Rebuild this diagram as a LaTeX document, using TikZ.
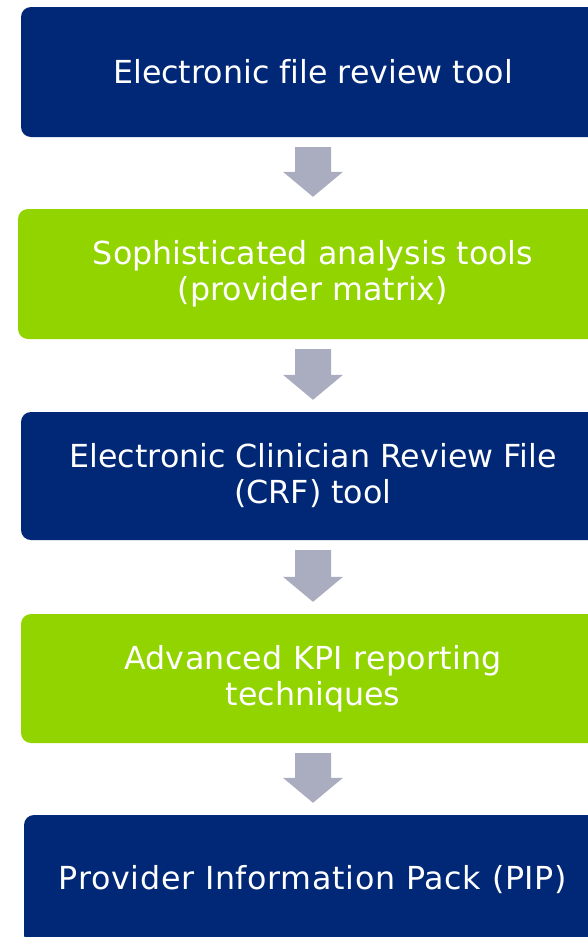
\documentclass[tikz,border=0pt]{standalone}
\usepackage{fontspec}
\setmainfont[Ligatures=CommonOff]{DejaVu Sans}
\usepackage{tikz}
\usetikzlibrary{calc}

\definecolor{pipblue}{RGB}{0,40,118}
\definecolor{pipgreen}{RGB}{146,212,0}
\definecolor{pipgrey}{RGB}{170,172,191}

\begin{document}
\begin{tikzpicture}[x=1pt,y=1pt]
	\tikzstyle{every node}=[font=\fontsize{31.7}{36}\selectfont, text=white, align=center]
	\tikzstyle{stage}=[rectangle, rounded corners=10pt, inner sep=0pt, minimum height=130pt]
	\tikzstyle{bluestage}=[stage, fill=pipblue]
	\tikzstyle{greenstage}=[stage, fill=pipgreen]
	
	\useasboundingbox (0,0) rectangle (588,-937);
	\clip (0,0) rectangle (588,-937);
	
	\node[bluestage, minimum width=584pt] (review) at (313,-72) {Electronic file review tool};
	\node[greenstage, minimum width=590pt] (analysis) at (313,-274) {Sophisticated analysis tools\\(provider matrix)};
	\node[bluestage, minimum width=584pt, minimum height=128pt] (crf) at (313,-476) {Electronic Clinician Review File\\(CRF) tool};
	\node[greenstage, minimum width=584pt, minimum height=129pt] (kpi) at (313,-678.5) {\addfontfeatures{LetterSpace=1}Advanced KPI reporting\\techniques};
	\node[bluestage, minimum width=578pt] (pip) at (313,-880) {\addfontfeatures{LetterSpace=2.2}Provider Information Pack (PIP)};
	
	% block arrows between the stages
	\foreach \a/\b in {review/analysis,analysis/crf,crf/kpi,kpi/pip}
	{
		\fill[pipgrey] ($(\a.south)+(-18,-10)$) -- ($(\a.south)+(18,-10)$) -- ($(\b.north)+(18,37)$) -- ($(\b.north)+(30,37)$) -- ($(\b.north)+(0,12)$) -- ($(\b.north)+(-30,37)$) -- ($(\b.north)+(-18,37)$) -- cycle;
	}
	
\end{tikzpicture}
\end{document}
